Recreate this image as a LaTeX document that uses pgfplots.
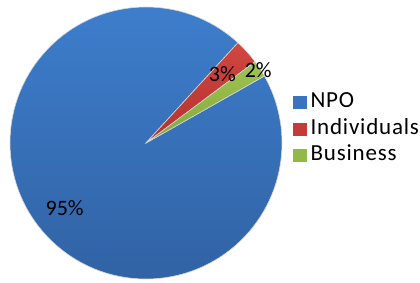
\documentclass[border=0pt]{standalone}
\usepackage{pgfplots}
\usepackage{pgfplotstable}
\pgfplotsset{compat=1.18}
\usetikzlibrary{calc}
\usepackage{fontspec}
\setmainfont{Carlito}
\newfontfamily\legfont[LetterSpace=3.5]{Carlito}
\definecolor{npoT}{RGB}{62,127,206}
\definecolor{npoB}{RGB}{48,97,162}
\definecolor{indT}{RGB}{210,70,64}
\definecolor{indB}{RGB}{178,50,46}
\definecolor{busT}{RGB}{160,196,82}
\definecolor{busB}{RGB}{130,166,58}
\definecolor{npo}{RGB}{58,116,189}
\definecolor{ind}{RGB}{196,60,55}
\definecolor{bus}{RGB}{146,184,70}
\definecolor{edge}{RGB}{215,215,215}

\pgfplotstableread{
label value
NPO 95
Individuals 3
Business 2
}\piedata
\pgfplotstablegetelem{0}{value}\of\piedata \let\vNPO\pgfplotsretval
\pgfplotstablegetelem{1}{value}\of\piedata \let\vInd\pgfplotsretval
\pgfplotstablegetelem{2}{value}\of\piedata \let\vBus\pgfplotsretval
\pgfmathsetmacro{\aStart}{29.5}
\pgfmathsetmacro{\aBus}{\aStart+3.6*\vBus}
\pgfmathsetmacro{\aInd}{\aBus+3.6*\vInd}
\pgfmathsetmacro{\aNPO}{\aInd+3.6*\vNPO}
\pgfmathsetmacro{\mBus}{(\aStart+\aBus)/2}
\pgfmathsetmacro{\mInd}{(\aBus+\aInd)/2}
\pgfmathsetmacro{\mNPO}{(\aInd+\aNPO)/2}
\def\R{136}

\begin{document}
\begin{tikzpicture}
\begin{axis}[
  name=pie,
  x=1pt, y=1pt,
  xmin=0, xmax=420, ymin=0, ymax=282,
  hide axis, clip=false,
  font=\fontsize{22}{26}\selectfont,
  legend style={draw=none, fill=none, at={(axis cs:293,153)}, anchor=west,
    font=\fontsize{23}{26}\selectfont\legfont, row sep=6.5pt, inner sep=0pt,
    nodes={inner sep=0pt, text height=15pt, text depth=5pt}},
  legend cell align=left,
]
\addlegendimage{legend image code/.code={\fill[npo] (0pt,-6pt) rectangle (13pt,6pt); \path (17pt,0pt);}}
\addlegendentry{NPO}
\addlegendimage{legend image code/.code={\fill[ind] (0pt,-6pt) rectangle (13pt,6pt); \path (17pt,0pt);}}
\addlegendentry{Individuals}
\addlegendimage{legend image code/.code={\fill[bus] (0pt,-6pt) rectangle (13pt,6pt); \path (17pt,0pt);}}
\addlegendentry{Business}

\path[top color=npoT, bottom color=npoB, draw=edge, line width=0.6pt]
  (axis cs:146,139) -- ++(\aInd:\R pt) arc[start angle=\aInd, end angle=\aNPO, radius=\R pt] -- cycle;
\path[top color=indT, bottom color=indB, draw=edge, line width=0.6pt]
  (axis cs:146,139) -- ++(\aBus:\R pt) arc[start angle=\aBus, end angle=\aInd, radius=\R pt] -- cycle;
\path[top color=busT, bottom color=busB, draw=edge, line width=0.6pt]
  (axis cs:146,139) -- ++(\aStart:\R pt) arc[start angle=\aStart, end angle=\aBus, radius=\R pt] -- cycle;

\node at ($(axis cs:146,139)+(\mNPO:104pt)$) {95\%};
\node at ($(axis cs:146,139)+(\mInd:103pt)$) {3\%};
\node at ($(axis cs:146,139)+(\mBus:134pt)$) {2\%};
\end{axis}
\pgfresetboundingbox
\path (pie.south west) rectangle ++(420pt,282pt);
\end{tikzpicture}
\end{document}
